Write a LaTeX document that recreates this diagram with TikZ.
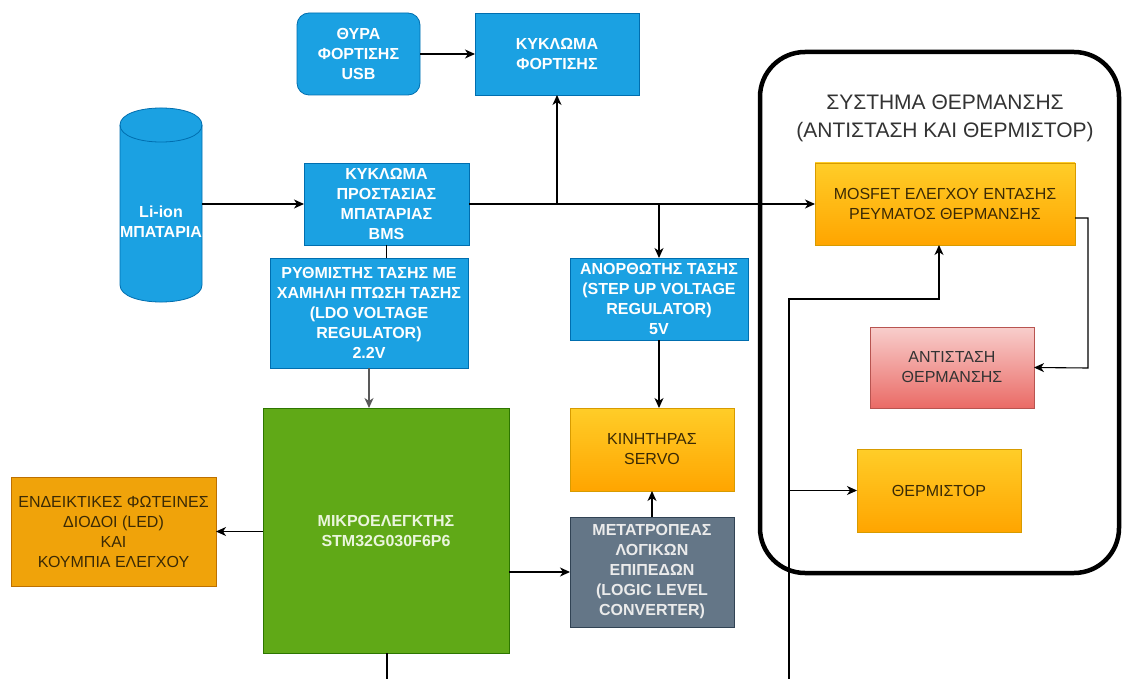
\documentclass[tikz,border=0pt]{standalone}
\usepackage{fontspec}
\setmainfont{Liberation Sans}
\usetikzlibrary{arrows.meta}

\definecolor{blueFill}{HTML}{1BA1E2}
\definecolor{blueLine}{HTML}{006EAF}
\definecolor{greenFill}{HTML}{60A917}
\definecolor{greenLine}{HTML}{2D7600}
\definecolor{amberFill}{HTML}{F0A30A}
\definecolor{amberLine}{HTML}{BD7000}
\definecolor{orangeTop}{HTML}{FFCD28}
\definecolor{orangeBot}{HTML}{FFA500}
\definecolor{orangeLine}{HTML}{D79B00}
\definecolor{redTop}{HTML}{F8CECC}
\definecolor{redBot}{HTML}{EA6B66}
\definecolor{redLine}{HTML}{B85450}
\definecolor{slateFill}{HTML}{647687}
\definecolor{slateLine}{HTML}{314354}
\definecolor{darkText}{HTML}{3B2A05}
\definecolor{greyText}{HTML}{333333}
\definecolor{mcuText}{HTML}{EAF5DC}

\tikzset{
  box/.style={rectangle, inner sep=0pt, outer sep=0pt, align=center, line width=0.8pt},
  bluebox/.style={box, fill=blueFill, draw=blueLine, text=white,
    font=\bfseries\fontsize{16}{20}\selectfont},
  greenbox/.style={box, fill=greenFill, draw=greenLine, text=mcuText,
    font=\bfseries\fontsize{16}{20}\selectfont},
  amberbox/.style={box, fill=amberFill, draw=amberLine, text=darkText,
    font=\fontsize{16}{20}\selectfont},
  orangebox/.style={box, top color=orangeTop, bottom color=orangeBot, draw=orangeLine,
    text=darkText, font=\fontsize{16}{20}\selectfont},
  redbox/.style={box, top color=redTop, bottom color=redBot, draw=redLine,
    text=greyText, font=\fontsize{16}{20}\selectfont},
  slatebox/.style={box, fill=slateFill, draw=slateLine, text=white!92!black,
    font=\bfseries\fontsize{16}{20}\selectfont},
  wire/.style={line width=1.1pt, draw=black},
  arr/.style={wire, -{Stealth[length=10pt, width=9pt, inset=3pt]}},
}

\begin{document}
\begin{tikzpicture}[x=1pt, y=-1pt]
\useasboundingbox[fill=white] (0,0) rectangle (1124,679);

% ---- battery cylinder ----
\path[fill=blueFill, draw=blueLine, line width=0.8pt]
  (120,125) -- (120,285) .. controls (120,307.7) and (202,307.7) .. (202,285)
  -- (202,125) .. controls (202,102.3) and (120,102.3) .. (120,125) -- cycle;
\draw[blueLine, line width=0.8pt]
  (120,125) .. controls (120,147.7) and (202,147.7) .. (202,125);
\node[inner sep=0pt, outer sep=0pt, minimum width=82pt, minimum height=194pt] (batt) at (161,205) {};
\node[text=white, font=\bfseries\fontsize{16}{20}\selectfont, align=center] (battlbl) at (161,222) {Li-ion\\ΜΠΑΤΑΡΙΑ};

% ---- power blocks ----
\node[bluebox, rounded corners=12pt, minimum width=123pt, minimum height=82pt] (usb) at (358.5,54) {ΘΥΡΑ\\ΦΟΡΤΙΣΗΣ\\USB};
\node[bluebox, minimum width=164pt, minimum height=82pt] (chg) at (557,54) {ΚΥΚΛΩΜΑ\\ΦΟΡΤΙΣΗΣ};
\node[bluebox, minimum width=165pt, minimum height=82pt] (bms) at (386.5,204) {ΚΥΚΛΩΜΑ\\ΠΡΟΣΤΑΣΙΑΣ\\ΜΠΑΤΑΡΙΑΣ\\BMS};
\node[bluebox, minimum width=198pt, minimum height=110pt] (ldo) at (369,313) {ΡΥΘΜΙΣΤΗΣ ΤΑΣΗΣ ΜΕ\\ΧΑΜΗΛΗ ΠΤΩΣΗ ΤΑΣΗΣ\\(LDO VOLTAGE\\REGULATOR)\\2.2V};
\node[bluebox, minimum width=178pt, minimum height=82pt] (step) at (659,299) {ΑΝΟΡΘΩΤΗΣ ΤΑΣΗΣ\\(STEP UP VOLTAGE\\REGULATOR)\\5V};

% ---- control blocks ----
\node[greenbox, minimum width=246pt, minimum height=245pt] (mcu) at (386,530.5) {ΜΙΚΡΟΕΛΕΓΚΤΗΣ\\STM32G030F6P6};
\node[amberbox, minimum width=205pt, minimum height=109pt] (led) at (113.5,531.5) {ΕΝΔΕΙΚΤΙΚΕΣ ΦΩΤΕΙΝΕΣ\\ΔΙΟΔΟΙ (LED)\\ΚΑΙ\\ΚΟΥΜΠΙΑ ΕΛΕΓΧΟΥ};
\node[orangebox, minimum width=164pt, minimum height=83pt] (servo) at (652,449.5) {ΚΙΝΗΤΗΡΑΣ\\SERVO};
\node[slatebox, minimum width=164pt, minimum height=110pt] (logic) at (652,572) {ΜΕΤΑΤΡΟΠΕΑΣ\\ΛΟΓΙΚΩΝ\\ΕΠΙΠΕΔΩΝ\\(LOGIC LEVEL\\CONVERTER)};

% ---- heating subsystem ----
\node[draw=black, line width=4.5pt, rounded corners=45pt, inner sep=0pt,
      minimum width=359pt, minimum height=521pt] (heat) at (939.5,312.5) {};
\node[text=greyText, font=\fontsize{21}{28}\selectfont, align=center] (heattitle) at (945,118)
  {ΣΥΣΤΗΜΑ ΘΕΡΜΑΝΣΗΣ\\(ΑΝΤΙΣΤΑΣΗ ΚΑΙ ΘΕΡΜΙΣΤΟΡ)};
\node[orangebox, minimum width=260pt, minimum height=82pt] (mos) at (945,204) {MOSFET ΕΛΕΓΧΟΥ ΕΝΤΑΣΗΣ\\ΡΕΥΜΑΤΟΣ ΘΕΡΜΑΝΣΗΣ};
\node[redbox, minimum width=164pt, minimum height=81pt] (res) at (952,367.5) {ΑΝΤΙΣΤΑΣΗ\\ΘΕΡΜΑΝΣΗΣ};
\node[orangebox, minimum width=164pt, minimum height=83pt] (therm) at (939,490.5) {ΘΕΡΜΙΣΤΟΡ};

% ---- connectors ----
\draw[arr] (usb.east) -- (chg.west);
\draw[arr] (bms.west -| batt.east) -- (bms.west);
\draw[arr] (bms.east) -- (mos.west);
\draw[arr] (chg.south |- bms.east) -- (chg.south);
\draw[arr] (step.north |- bms.east) -- (step.north);
\draw[wire] (bms.south) -- (bms.south |- ldo.north);
\draw[arr, draw=black!65] (ldo.south) -- (ldo.south |- mcu.north);
\draw[arr] (mcu.west |- led.east) -- (led.east);
\coordinate (mcuout) at (387,679);
\draw[wire] (mcu.south -| mcuout) -- (mcuout);
\draw[arr] (step.south) -- (step.south |- servo.north);
\draw[arr] (logic.north) -- (servo.south);
\draw[arr] (mcu.east |- logic.west) -- (logic.west);

\coordinate (mosdrop) at (1088,368);
\draw[arr] ([yshift=-14pt]mos.east) -| (mosdrop) -- (res.east);

\coordinate (fb) at (789,679);
\coordinate (fbturn) at (789,299);
\draw[arr] (fb) -- (fbturn) -| ([xshift=-6pt]mos.south);
\draw[arr] (fb |- therm.west) -- (therm.west);
\end{tikzpicture}
\end{document}
